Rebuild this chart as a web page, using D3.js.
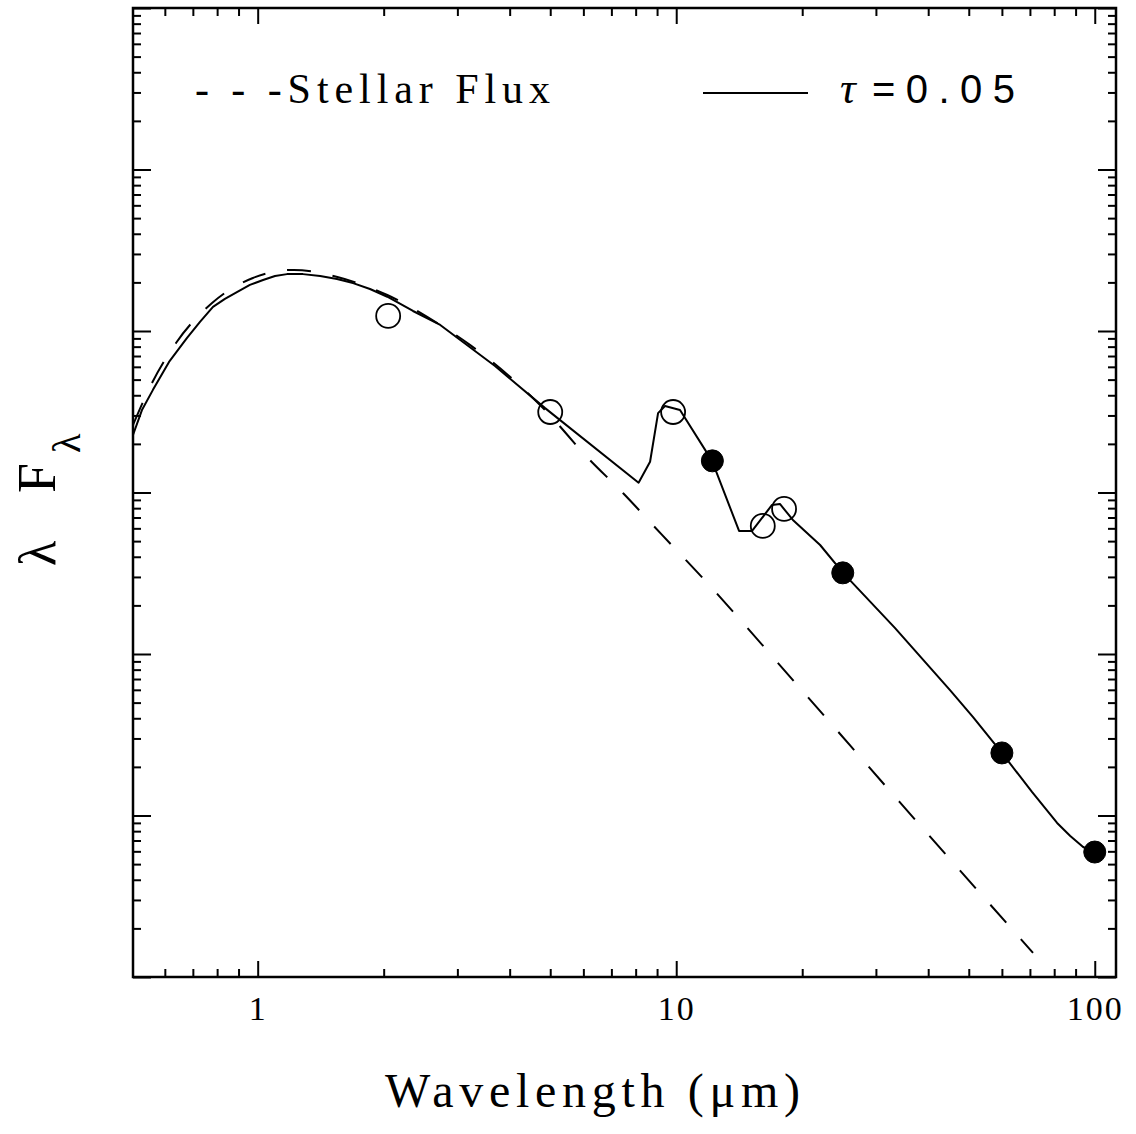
<!DOCTYPE html>
<html>
<head>
<meta charset="utf-8">
<script src="https://cdn.jsdelivr.net/npm/d3@7"></script>
<style>
  html, body { margin: 0; padding: 0; background: #fff; }
  svg { display: block; }
</style>
</head>
<body>
<svg id="chart" width="1136" height="1134"></svg>
<script>
// ---- data ----
const modelWave = [0.5036, 0.529, 0.562, 0.614, 0.678, 0.728, 0.782, 0.835, 0.892, 0.958, 1.03, 1.10, 1.175, 1.283, 1.41, 1.547, 1.69, 1.855, 2.04, 2.35, 2.73, 3.69, 4.86, 8.13, 8.66, 9.05, 9.40, 10.21, 12.18, 14.13, 15.18, 16.94, 17.69, 19.0, 22.07, 25.04, 33.3, 45.1, 51.2, 60.0, 70.8, 81.3, 87.4, 93.8, 100];
const modelFlux = [2.27e-10, 3.24e-10, 4.32e-10, 6.43e-10, 9.06e-10, 1.14e-9, 1.41e-9, 1.58e-9, 1.74e-9, 1.93e-9, 2.07e-9, 2.19e-9, 2.25e-9, 2.25e-9, 2.19e-9, 2.10e-9, 1.98e-9, 1.82e-9, 1.63e-9, 1.33e-9, 1.09e-9, 6.07e-10, 3.33e-10, 1.15e-10, 1.55e-10, 3.10e-10, 3.43e-10, 3.24e-10, 1.57e-10, 5.78e-11, 5.78e-11, 8.38e-11, 8.49e-11, 6.76e-11, 4.73e-11, 3.18e-11, 1.45e-11, 5.98e-12, 4.07e-12, 2.44e-12, 1.40e-12, 8.99e-13, 7.46e-13, 6.38e-13, 5.94e-13];

const starWave = [0.5036, 0.559, 0.638, 0.778, 0.974, 1.22, 1.55, 2.04, 2.73, 3.22, 4.86, 6.12, 7.46, 9.25, 11.4, 19.74, 34.2, 71.2];
const starFlux = [2.62e-10, 4.76e-10, 8.43e-10, 1.49e-9, 2.13e-9, 2.39e-9, 2.16e-9, 1.67e-9, 1.09e-9, 8.18e-10, 3.24e-10, 1.66e-10, 9.93e-11, 5.46e-11, 3.08e-11, 6.16e-12, 1.21e-12, 1.41e-13];

const openWave = [2.05, 5.0, 9.83, 16.1, 18.1];
const openFlux = [1.24e-9, 3.15e-10, 3.15e-10, 6.21e-11, 7.91e-11];

const filledWave = [12.2, 25, 60, 100];
const filledFlux = [1.57e-10, 3.18e-11, 2.44e-12, 5.94e-13];

const xMajorTicks = [1, 10, 100];
const xTickLabels = ["1", "10", "100"];
const xMinorTicks = [0.6, 0.7, 0.8, 0.9, 2, 3, 4, 5, 6, 7, 8, 9, 20, 30, 40, 50, 60, 70, 80, 90];
const yMajorTicks = [1e-13, 1e-12, 1e-11, 1e-10, 1e-9, 1e-8, 1e-7];
const yMinorTicks = [];
[-13, -12, -11, -10, -9, -8].forEach(e => { for (let k = 2; k <= 9; k++) yMinorTicks.push(k * Math.pow(10, e)); });

const legendStar = "- - -Stellar Flux";
const legendModelSym = "\u03C4";
const legendModelVal = "=0.05";
const xTitle = "Wavelength (\u03BCm)";

// ---- layout ----
const L = 133, R = 1116, T = 8, B = 977;
const svg = d3.select("#chart");
const x = d3.scaleLog().domain([0.5036, 112.4]).range([L, R]);
const y = d3.scaleLog().domain([1e-13, 1e-7]).range([B, T]);

svg.append("defs").append("clipPath").attr("id", "clip")
  .append("rect").attr("x", L).attr("y", T).attr("width", R - L).attr("height", B - T);

function styleAxis(g) {
  g.select(".domain").remove();
  g.selectAll(".tick line").attr("stroke", "#000").attr("stroke-width", 2);
}

// bottom axis
svg.append("g").attr("transform", `translate(0,${B})`)
  .call(d3.axisBottom(x).tickValues(xMinorTicks).tickSize(-8).tickFormat(""))
  .call(styleAxis);
svg.append("g").attr("transform", `translate(0,${B})`)
  .call(d3.axisBottom(x).tickValues(xMajorTicks).tickSize(-16).tickPadding(0)
    .tickFormat((d, i) => xTickLabels[i]))
  .call(styleAxis)
  .call(g => g.selectAll(".tick text")
    .attr("y", 43).attr("dy", 0)
    .attr("font-family", "'Liberation Serif', 'DejaVu Serif', serif")
    .attr("font-size", 34).attr("letter-spacing", 2).attr("fill", "#000"));

// top axis
svg.append("g").attr("transform", `translate(0,${T})`)
  .call(d3.axisTop(x).tickValues(xMinorTicks).tickSize(-8).tickFormat(""))
  .call(styleAxis);
svg.append("g").attr("transform", `translate(0,${T})`)
  .call(d3.axisTop(x).tickValues(xMajorTicks).tickSize(-16).tickFormat(""))
  .call(styleAxis);

// left axis
svg.append("g").attr("transform", `translate(${L},0)`)
  .call(d3.axisLeft(y).tickValues(yMinorTicks).tickSize(-8).tickFormat(""))
  .call(styleAxis);
svg.append("g").attr("transform", `translate(${L},0)`)
  .call(d3.axisLeft(y).tickValues(yMajorTicks).tickSize(-18).tickFormat(""))
  .call(styleAxis);

// right axis
svg.append("g").attr("transform", `translate(${R},0)`)
  .call(d3.axisRight(y).tickValues(yMinorTicks).tickSize(-8).tickFormat(""))
  .call(styleAxis);
svg.append("g").attr("transform", `translate(${R},0)`)
  .call(d3.axisRight(y).tickValues(yMajorTicks).tickSize(-18).tickFormat(""))
  .call(styleAxis);

// frame
svg.append("rect").attr("x", L).attr("y", T).attr("width", R - L).attr("height", B - T)
  .attr("fill", "none").attr("stroke", "#000").attr("stroke-width", 2.5);

const plot = svg.append("g").attr("clip-path", "url(#clip)");

// stellar flux (dashed)
const starData = starWave.map((w, i) => [w, starFlux[i]]);
plot.append("path").datum(starData)
  .attr("d", d3.line().x(d => x(d[0])).y(d => y(d[1])).curve(d3.curveMonotoneX))
  .attr("fill", "none").attr("stroke", "#000").attr("stroke-width", 2)
  .attr("stroke-dasharray", "24 22");

// model (solid)
const modelData = modelWave.map((w, i) => [w, modelFlux[i]]);
plot.append("path").datum(modelData)
  .attr("d", d3.line().x(d => x(d[0])).y(d => y(d[1])))
  .attr("fill", "none").attr("stroke", "#000").attr("stroke-width", 2)
  .attr("stroke-linejoin", "round");

// open circles
svg.append("g").selectAll("circle").data(openWave.map((w, i) => [w, openFlux[i]]))
  .join("circle")
  .attr("cx", d => x(d[0])).attr("cy", d => y(d[1])).attr("r", 12)
  .attr("fill", "none").attr("stroke", "#000").attr("stroke-width", 1.8);

// filled circles
svg.append("g").selectAll("circle").data(filledWave.map((w, i) => [w, filledFlux[i]]))
  .join("circle")
  .attr("cx", d => x(d[0])).attr("cy", d => y(d[1])).attr("r", 11)
  .attr("fill", "#000").attr("stroke", "#000").attr("stroke-width", 1);

// legend
svg.append("text").attr("x", 195).attr("y", 103)
  .attr("font-family", "'Liberation Serif', 'DejaVu Serif', serif")
  .attr("font-size", 42).attr("fill", "#000")
  .attr("textLength", 355).attr("lengthAdjust", "spacing")
  .text(legendStar);

svg.append("line").attr("x1", 703).attr("x2", 808).attr("y1", 93).attr("y2", 93)
  .attr("stroke", "#000").attr("stroke-width", 2);

const tl = svg.append("text").attr("x", 840).attr("y", 103)
  .attr("font-family", "'Liberation Sans', 'DejaVu Sans', sans-serif")
  .attr("font-size", 40).attr("fill", "#000");
tl.append("tspan").attr("font-family", "'Liberation Serif', serif").attr("font-style", "italic")
  .attr("font-size", 44).text(legendModelSym);
tl.append("tspan").attr("x", 872).attr("textLength", 143).attr("lengthAdjust", "spacing")
  .text(legendModelVal);

// x axis title
svg.append("text").attr("x", 385).attr("y", 1107)
  .attr("font-family", "'Liberation Serif', 'DejaVu Serif', serif")
  .attr("font-size", 48).attr("fill", "#000")
  .attr("textLength", 415).attr("lengthAdjust", "spacing")
  .text(xTitle);

// y axis title (rotated)
const yl = svg.append("text").attr("transform", "rotate(-90)")
  .attr("font-family", "'Liberation Serif', 'DejaVu Serif', serif")
  .attr("fill", "#000");
yl.append("tspan").attr("x", -566).attr("y", 55).attr("font-size", 52).text("\u03BB");
yl.append("tspan").attr("x", -493).attr("y", 55).attr("font-size", 54).text("F");
yl.append("tspan").attr("x", -453).attr("y", 80).attr("font-size", 40).text("\u03BB");
</script>
</body>
</html>
